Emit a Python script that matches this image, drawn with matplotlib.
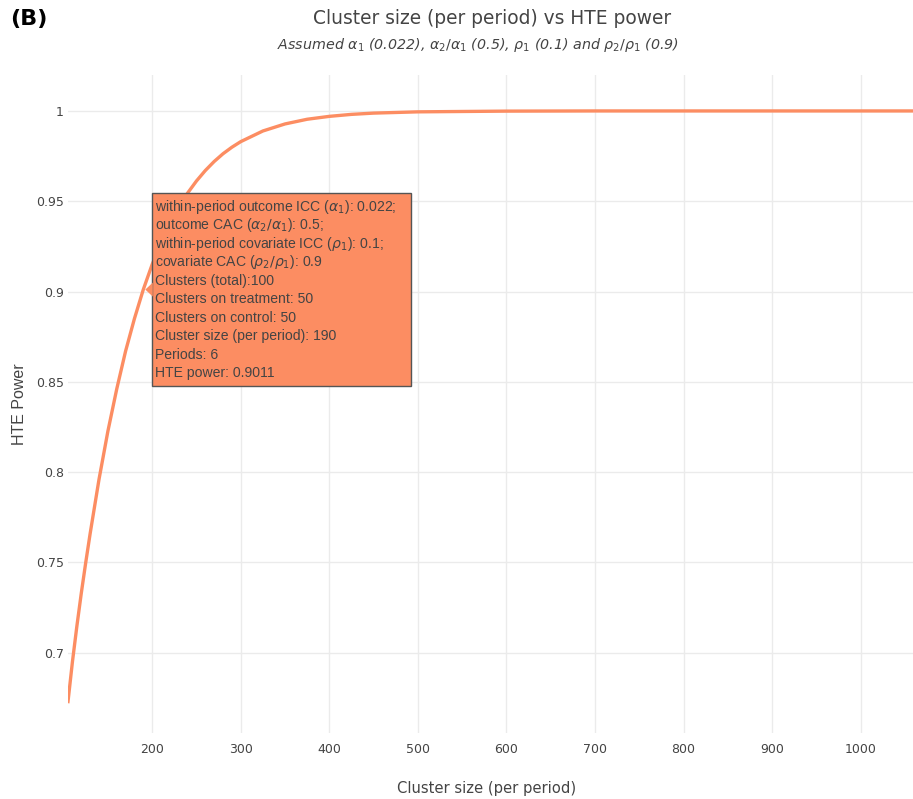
import matplotlib.pyplot as plt
import matplotlib.transforms as mtransforms
from matplotlib.patches import Polygon, Rectangle

# cluster size (per period) and HTE power
cluster_size = [105, 110, 115, 120, 125, 130, 140, 150, 160, 170, 180, 190, 200,
                210, 220, 230, 240, 250, 260, 270, 280, 290, 300, 325, 350, 375,
                400, 425, 450, 500, 600, 700, 800, 900, 1000, 1060]
hte_power = [0.673, 0.695, 0.7147, 0.733, 0.7499, 0.766, 0.796, 0.8226, 0.846,
             0.867, 0.885, 0.9011, 0.915, 0.927, 0.9375, 0.9466, 0.9545, 0.9612,
             0.967, 0.972, 0.9763, 0.9799, 0.983, 0.9889, 0.9928, 0.9954, 0.997,
             0.9981, 0.9988, 0.9995, 0.9999, 1.0, 1.0, 1.0, 1.0, 1.0]

x_ticks = [200, 300, 400, 500, 600, 700, 800, 900, 1000]
y_ticks = [0.7, 0.75, 0.8, 0.85, 0.9, 0.95, 1.0]
y_ticklabels = ['0.7', '0.75', '0.8', '0.85', '0.9', '0.95', '1']

hover_x, hover_y = 190, 0.9011
hover_lines = [
    r'within-period outcome ICC ($\alpha_1$): 0.022;',
    r'outcome CAC ($\alpha_2/\alpha_1$): 0.5;',
    r'within-period covariate ICC ($\rho_1$): 0.1;',
    r'covariate CAC ($\rho_2/\rho_1$): 0.9',
    'Clusters (total):100',
    'Clusters on treatment: 50',
    'Clusters on control: 50',
    'Cluster size (per period): 190',
    'Periods: 6',
    'HTE power: 0.9011',
]

orange = '#fc8d62'
grey = '#444444'

plt.rcParams['font.family'] = ['DejaVu Sans']
plt.rcParams['mathtext.fontset'] = 'dejavusans'

fig = plt.figure(figsize=(9.13, 7.99), dpi=100)
ax = fig.add_axes([68 / 913, 66 / 799, 1 - 68 / 913, (733 - 75) / 799])

ax.plot(cluster_size, hte_power, color=orange, lw=2.4, zorder=3)

ax.set_xlim(105, 1059)
ax.set_ylim(0.6556, 1.0199)
ax.set_xticks(x_ticks)
ax.set_yticks(y_ticks)
ax.set_yticklabels(y_ticklabels)
ax.grid(True, color='#ebebeb', lw=1)
ax.set_axisbelow(True)
for s in ax.spines.values():
    s.set_visible(False)
ax.tick_params(length=0, labelsize=9, labelcolor=grey)
ax.tick_params(axis='x', pad=7)
ax.tick_params(axis='y', pad=3)

fig.text(487 / 913, 1 - 788 / 799, 'Cluster size (per period)', fontsize=10.6,
         color=grey, ha='center', va='center')
fig.text(20 / 913, 1 - 404 / 799, 'HTE Power', fontsize=11.5, color=grey,
         ha='center', va='center', rotation=90, family=['Liberation Sans', 'DejaVu Sans'])

fig.text(0.011, 1 - 19 / 799, '(B)', fontsize=16, fontweight='bold', va='center', ha='left')
fig.text(492 / 913, 1 - 18 / 799, 'Cluster size (per period) vs HTE power',
         fontsize=13.4, color=grey, ha='center', va='center')
fig.text(478 / 913, 1 - 45 / 799,
         r'Assumed $\alpha_1$ (0.022), $\alpha_2/\alpha_1$ (0.5), $\rho_1$ (0.1) and $\rho_2/\rho_1$ (0.9)',
         fontsize=10.3, color=grey, style='italic', ha='center', va='center')

# hover label, laid out in pixels around the hovered point
trans = mtransforms.Affine2D() + mtransforms.ScaledTranslation(hover_x, hover_y, ax.transData)
ax.add_patch(Rectangle((9, -96.5), 259, 193, transform=trans, fc=orange,
                       ec='#555555', lw=1, zorder=5, clip_on=False))
ax.add_patch(Polygon([(2, 0), (9.5, 7), (9.5, -7)], closed=True, transform=trans,
                     fc=orange, ec='none', zorder=6, clip_on=False))
for i, line in enumerate(hover_lines):
    ax.text(12, 83 - i * 18.5, line, transform=trans, ha='left', va='center',
            fontsize=10.1, color=grey, family=['Liberation Sans', 'DejaVu Sans'],
            zorder=7, clip_on=False)

fig.savefig('out.png', dpi=100)
